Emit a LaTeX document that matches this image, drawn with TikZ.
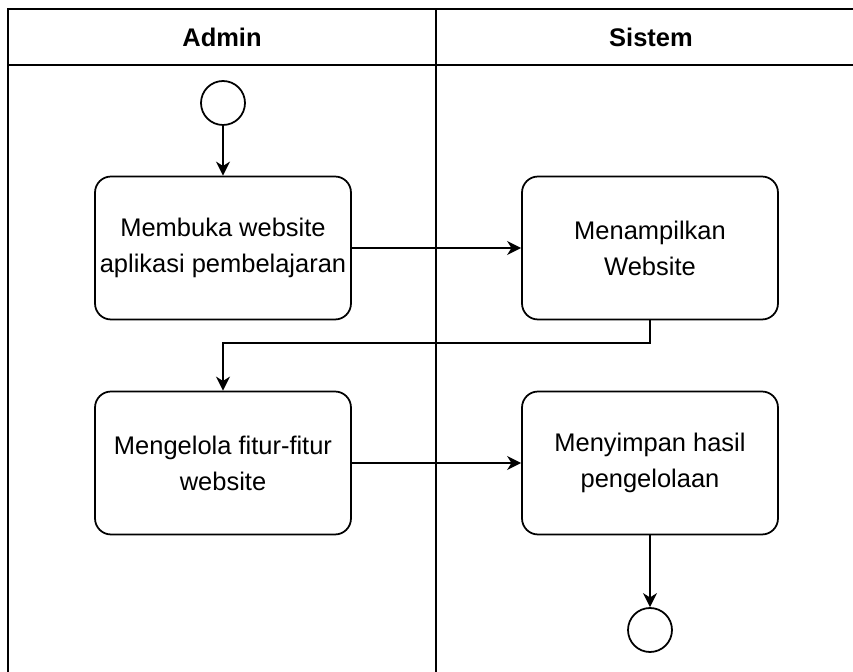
\documentclass[tikz,border=0pt]{standalone}
\usepackage{fontspec}
\setmainfont{Liberation Sans}
\usetikzlibrary{arrows.meta}
\tikzset{
  aksi/.style={draw,line width=1pt,rounded corners=0.32cm,minimum width=5.12cm,
        minimum height=2.86cm,align=center,inner sep=2pt,
        font=\fontsize{14.5}{20.5}\selectfont},
  titik/.style={draw,line width=1pt,circle,minimum size=0.88cm,inner sep=0pt},
  lajur/.style={font=\fontsize{14.5}{17}\selectfont\bfseries},
  alur/.style={line width=1pt,-{Stealth[length=8pt,width=8pt,inset=2.5pt]}}
}

\begin{document}
\begin{tikzpicture}[x=0.02cm,y=-0.02cm]
  \clip (0,0) rectangle (853,672);
  % lanes
  \draw[line width=1pt] (8,700) -- (8,9) -- (866,9) -- (866,700);
  \draw[line width=1pt] (8,65) -- (866,65);
  \draw[line width=1pt] (436,9) -- (436,700);
  \node[lajur] (hadmin) at (222,37) {Admin};
  \node[lajur] (hsistem) at (651,37) {Sistem};
  % activities
  \node[titik] (mulai) at (223,103) {};
  \node[aksi] (buka) at (223,248) {Membuka website\\aplikasi pembelajaran};
  \node[aksi] (tampil) at (650,248) {Menampilkan\\Website};
  \node[aksi] (kelola) at (223,463) {Mengelola fitur-fitur\\website};
  \node[aksi] (simpan) at (650,463) {Menyimpan hasil\\pengelolaan};
  \node[titik] (selesai) at (650,630) {};
  % flows
  \draw[alur] (mulai) -- (buka);
  \draw[alur] (buka) -- (tampil);
  \draw[alur] (tampil.south) -- ++(0,23) -| (kelola.north);
  \draw[alur] (kelola) -- (simpan);
  \draw[alur] (simpan) -- (selesai);
\end{tikzpicture}
\end{document}
